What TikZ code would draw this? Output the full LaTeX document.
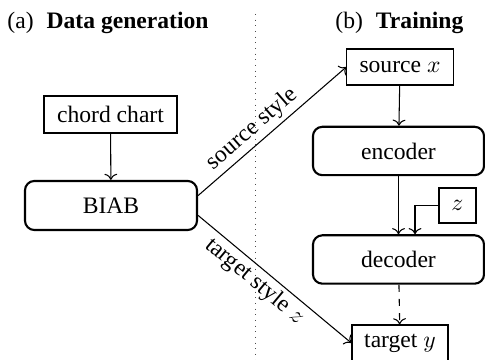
\documentclass[tikz,border=0pt]{standalone}
\usepackage{fontspec}
\setmainfont{Liberation Serif}
\usetikzlibrary{arrows.meta}
\begin{document}
\begin{tikzpicture}[x=0.4237pt,y=-0.4237pt,
  plainbox/.style={draw,line width=0.5pt,inner sep=0pt,minimum width=#1},
  roundbox/.style={draw,line width=0.9pt,rounded corners=4pt,inner sep=0pt,minimum width=72.5pt,minimum height=20.5pt},
  conn/.style={->,line width=0.45pt},
  ttl/.style={anchor=base west,inner sep=0pt}]
\useasboundingbox (0,0) rectangle (485,360);
% titles
\node[ttl] (ta) at (7,29) {(a)\hspace{5.5pt}\textbf{Data generation}};
\node[ttl] (tb) at (335,29) {(b)\hspace{5.5pt}\textbf{Training}};
% separator
\coordinate (sepT) at (255,14);
\coordinate (sepB) at (255,362);
\draw[dotted,line width=0.4pt,black!70] (sepT) -- (sepB);
% left part
\node[plainbox=56.4pt,minimum height=15.7pt] (chord) at (110.5,114.5) {chord chart};
\node[roundbox,minimum width=72.9pt,minimum height=20.8pt] (biab) at (111,205.5) {BIAB};
% right part
\node[plainbox=45pt,minimum height=15.3pt] (src) at (400,67) {source $x$};
\node[roundbox] (enc) at (398.5,151) {encoder};
\node[plainbox=15.7pt,minimum height=14.8pt] (z) at (457.5,205.5) {$z$};
\node[roundbox] (dec) at (398.5,259.5) {decoder};
\node[plainbox=40.7pt,minimum height=15.3pt] (tgt) at (400,343) {target $y$};
% connectors
\draw[conn] (chord) -- (biab);
\draw[conn] ([yshift=4.2pt]biab.east) -- node[pos=0.43,sloped,above,inner sep=1.5pt] {source style} (src.west);
\draw[conn] ([yshift=-4.2pt]biab.east) -- node[pos=0.43,sloped,below,inner sep=1.5pt] {target style $z$} (tgt.west);
\draw[conn] (src) -- (enc);
\draw[conn] (enc) -- (dec);
\draw[conn] (z.west) -| ([xshift=7pt]dec.north);
\draw[conn,dashed] (dec) -- (tgt);
\end{tikzpicture}
\end{document}
